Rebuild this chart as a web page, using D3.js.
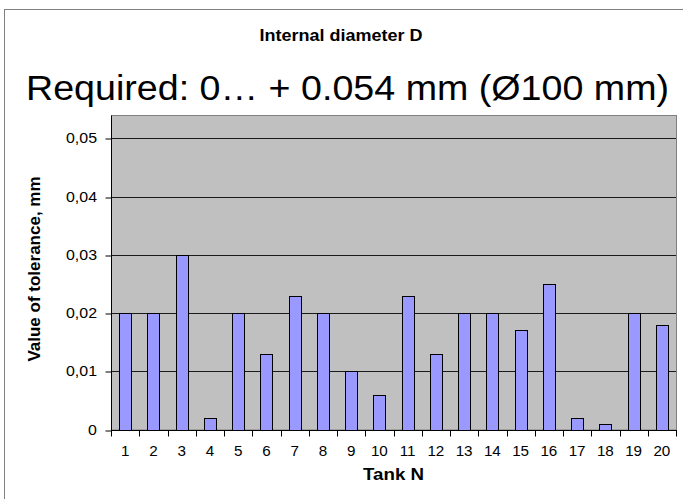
<!DOCTYPE html>
<html>
<head>
<meta charset="utf-8">
<script src="https://cdn.jsdelivr.net/npm/d3@7"></script>
<style>
  html, body { margin: 0; padding: 0; background: #fff; }
  svg { display: block; font-family: "Liberation Sans", Arial, sans-serif; }
</style>
</head>
<body>
<svg id="chart" width="683" height="499"></svg>
<script>
// Tolerance measured on each tank (internal diameter D)
const tanks = ["1","2","3","4","5","6","7","8","9","10","11","12","13","14","15","16","17","18","19","20"];
const tolerance = [0.02, 0.02, 0.03, 0.002, 0.02, 0.013, 0.023, 0.02, 0.01, 0.006,
                   0.023, 0.013, 0.02, 0.02, 0.017, 0.025, 0.002, 0.001, 0.02, 0.018];
const yTicks = [0, 0.01, 0.02, 0.03, 0.04, 0.05];
const yMax = 0.054;

const titleText = "Internal diameter D";
const subtitleText = "Required: 0\u2026 + 0.054 mm (\u00D8100 mm)";
const xTitle = "Tank N";
const yTitle = "Value of tolerance, mm";

const svg = d3.select("#chart");

// text placed at (x, y) with a slight horizontal widening of the glyphs
function label(parent, x, y, txt, size, opts = {}) {
  const t = parent.append("text")
    .attr("transform", `translate(${x},${y})${opts.rotate ? " rotate(" + opts.rotate + ")" : ""} scale(${opts.sx || 1},1)`)
    .attr("text-anchor", opts.anchor || "middle")
    .attr("font-size", size)
    .attr("fill", "#000")
    .text(txt);
  if (opts.bold) t.attr("font-weight", "bold");
  return t;
}

// outer chart frame
svg.append("rect")
  .attr("x", 4.5).attr("y", 9.5)
  .attr("width", 700).attr("height", 520)
  .attr("fill", "#fff").attr("stroke", "#808080").attr("stroke-width", 1);

const plot = { left: 111, right: 676, top: 115, bottom: 429.5 };

const x = d3.scaleBand().domain(tanks).range([plot.left, plot.right]).padding(0);
const y = d3.scaleLinear().domain([0, yMax]).range([plot.bottom, plot.top]);

// plot background
svg.append("rect")
  .attr("x", plot.left + 0.5).attr("y", plot.top + 0.5)
  .attr("width", plot.right - plot.left).attr("height", plot.bottom - plot.top)
  .attr("fill", "#C0C0C0").attr("stroke", "#808080").attr("stroke-width", 1);

// horizontal gridlines
svg.append("g").selectAll("line")
  .data(yTicks.filter(d => d > 0))
  .join("line")
  .attr("x1", plot.left).attr("x2", plot.right)
  .attr("y1", d => Math.round(y(d)) + 0.5).attr("y2", d => Math.round(y(d)) + 0.5)
  .attr("stroke", "#1a1a1a").attr("stroke-width", 1);

// bars
const barW = x.bandwidth() * 0.43;
svg.append("g").selectAll("rect")
  .data(tanks.map((t, i) => ({ t, v: tolerance[i] })))
  .join("rect")
  .attr("x", d => Math.round(x(d.t) + (x.bandwidth() - barW) / 2) + 0.5)
  .attr("y", d => Math.round(y(d.v)) + 0.5)
  .attr("width", Math.round(barW))
  .attr("height", d => Math.round(y(0)) - Math.round(y(d.v)))
  .attr("fill", "#9999FF").attr("stroke", "#000").attr("stroke-width", 1);

// y axis line and ticks
const yAxis = d3.axisLeft(y).tickValues(yTicks).tickSize(6).tickFormat("");
const gy = svg.append("g")
  .attr("transform", `translate(${plot.left + 0.5},0.5)`)
  .call(yAxis);
gy.select(".domain").attr("stroke", "#000").attr("d", `M0,${plot.top}V${Math.round(plot.bottom)}`);
gy.selectAll(".tick line").attr("stroke", "#000")
  .attr("transform", d => `translate(0,${Math.round(y(d)) - y(d)})`);
const fmtY = d => d === 0 ? "0" : d3.format(".2f")(d).replace(".", ",");
const gyl = svg.append("g");
yTicks.forEach(d => label(gyl, 97, y(d) + 5, fmtY(d), 14.5, { anchor: "end", sx: 1.1 }));

// x axis: ticks at category boundaries, labels centred
const gx = svg.append("g").attr("transform", `translate(0,${Math.round(plot.bottom) + 0.5})`);
gx.append("line")
  .attr("x1", plot.left).attr("x2", plot.right + 1)
  .attr("stroke", "#000");
const bounds = tanks.map(t => x(t)).concat([plot.right]);
gx.selectAll("line.tk").data(bounds).join("line").attr("class", "tk")
  .attr("x1", d => Math.round(d) + 0.5).attr("x2", d => Math.round(d) + 0.5)
  .attr("y1", 0).attr("y2", 6).attr("stroke", "#000");
const gxl = svg.append("g");
tanks.forEach(t => label(gxl, x(t) + x.bandwidth() / 2, 455.5, t, 14.5, { sx: 1.05 }));

// titles
label(svg, 341, 41, titleText, 17, { bold: true, sx: 1.06 });
label(svg, 347.5, 100, subtitleText, 35.5, { sx: 1.06 });
label(svg, (plot.left + plot.right) / 2, 480, xTitle, 17, { bold: true, sx: 1.1 });
label(svg, 39.5, 269, yTitle, 17, { bold: true, rotate: -90 });
</script>
</body>
</html>
